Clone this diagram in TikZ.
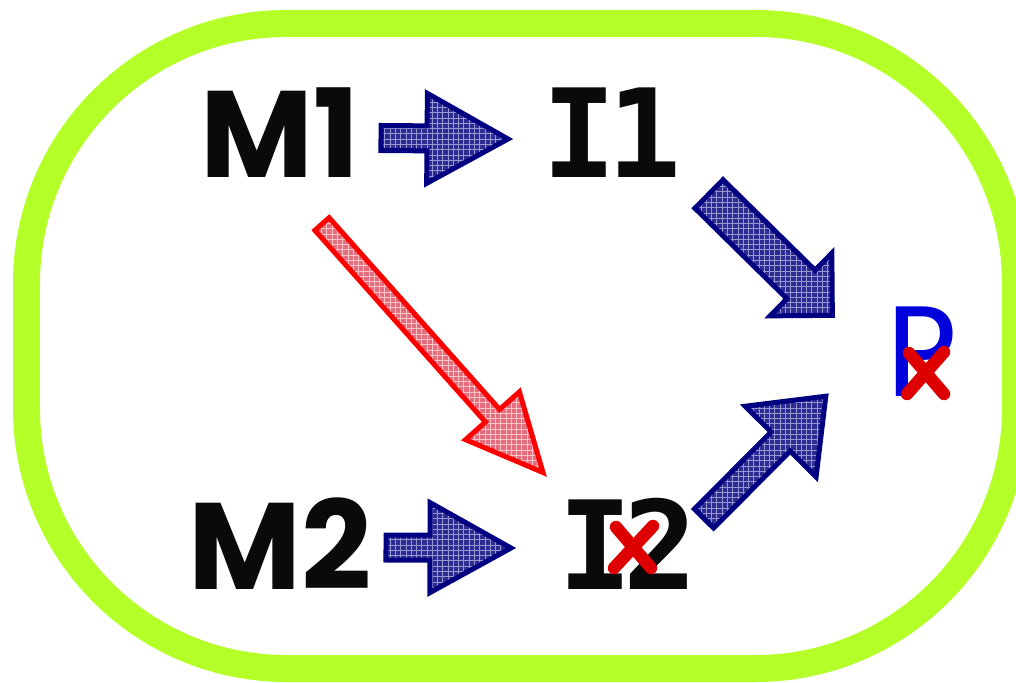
\documentclass[tikz,border=0pt]{standalone}
\usepackage{fontspec}
\setmainfont{Poppins}
\newfontfamily\monofont{DejaVu Sans Mono}
\usetikzlibrary{positioning, calc, patterns}
\definecolor{limegreen}{RGB}{180,255,40}
\definecolor{arrowblue}{RGB}{0,0,128}
\definecolor{arrowfill}{RGB}{45,45,145}
\definecolor{gridblue}{RGB}{150,150,210}
\definecolor{arrowred}{RGB}{255,0,0}
\definecolor{redfill}{RGB}{228,110,125}
\definecolor{gridred}{RGB}{250,195,200}
\definecolor{crossred}{RGB}{222,0,0}
\definecolor{pblue}{RGB}{0,0,220}

\newcommand{\blockarrow}[6]{%
	\draw[#1] let \p1 = ($(#3)-(#2)$), \n1 = {veclen(\x1,\y1)}, \n2 = {atan2(\y1,\x1)} in
		[shift={(#2)}, rotate=\n2] (0pt,#4) -- ({\n1-#6},#4) -- ({\n1-#6},#5) -- (\n1,0pt)
		-- ({\n1-#6},-#5) -- ({\n1-#6},-#4) -- (0pt,-#4) -- cycle;
}

\begin{document}
\begin{tikzpicture}[x=0.02cm, y=-0.02cm, node distance=6.64cm,
		term/.style={font=\fontsize{70}{70}\selectfont\monofont\bfseries, inner sep=0pt, text=black!96},
		mterm/.style={term, font=\fontsize{70}{70}\selectfont\bfseries},
		pterm/.style={term, font=\fontsize{70}{70}\selectfont\monofont, text=pblue},
		bluearrow/.style={draw=arrowblue, line width=0.1cm, preaction={fill=arrowfill}, pattern=grid, pattern color=gridblue},
		redarrow/.style={draw=arrowred, line width=0.1cm, preaction={fill=redfill}, pattern=grid, pattern color=gridred},
		cross/.style={crossred, line width=0.25cm, line cap=round}]
		\useasboundingbox (0,0) rectangle (1016,682);
		\draw[limegreen, line width=0.54cm, rounded corners=5.2cm] (26.5,23.5) rectangle (1015.5,668.5);
		
		\node[mterm] (M1) at (280,133) {M1};
		\node[term] (I1) [right of=M1] {I\kern-0.08em 1};
		\node[mterm, node distance=8.22cm] (M2) [below of=M1] {M2};
		\node[term, node distance=6.96cm] (I2) [right of=M2] {I\kern-0.08em 2};
		\node[pterm] (P) at (922,352) {P};
		
		\coordinate (m1out) at (381,138);
		\coordinate (i1in) at (508,139);
		\coordinate (m2out) at (386,547.5);
		\coordinate (i2in) at (511,548);
		\coordinate (i1out) at (709,194);
		\coordinate (pin1) at (832.5,315.5);
		\coordinate (i2out) at (704,518.5);
		\coordinate (pin2) at (826,396);
		\coordinate (m1diag) at (322,224);
		\coordinate (i2diag) at (543,472.5);
		
		\blockarrow{bluearrow}{m1out}{i1in}{0.25cm}{0.9cm}{1.62cm}
		\blockarrow{bluearrow}{m2out}{i2in}{0.25cm}{0.9cm}{1.62cm}
		\blockarrow{bluearrow}{i1out}{pin1}{0.4cm}{0.88cm}{0.88cm}
		\blockarrow{bluearrow}{i2out}{pin2}{0.27cm}{1.0cm}{1.28cm}
		\blockarrow{redarrow}{m1diag}{i2diag}{0.19cm}{0.72cm}{1.52cm}
		
		\draw[cross] (616,527) -- (651,568);
		\draw[cross] (653,526) -- (614,568);
		\draw[cross] (909,353) -- (944,394);
		\draw[cross] (944,352) -- (907,394);
\end{tikzpicture}
\end{document}
